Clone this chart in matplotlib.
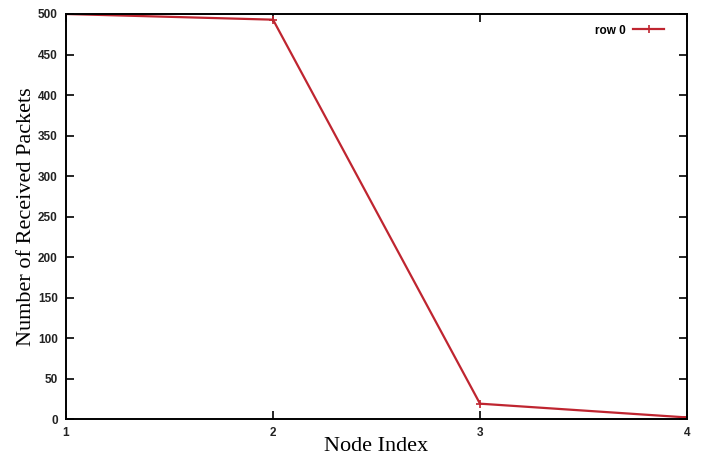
import matplotlib
matplotlib.use("Agg")
import matplotlib.pyplot as plt

nodes = [1, 2, 3, 4]
received = [500, 493, 19, 2]
xticks = [1, 2, 3, 4]
yticks = list(range(0, 501, 50))

fig = plt.figure(figsize=(7.04, 4.59), dpi=100)
ax = fig.add_axes([0.0938, 0.087, 0.882, 0.8825])
ax.plot(nodes, received, color="#bf2530", lw=1.6, marker="+", ms=6, mew=1.2, label="row 0")
ax.set_xlim(1, 4)
ax.set_ylim(0, 500)
ax.set_xticks(xticks)
ax.set_yticks(yticks)
ax.tick_params(direction="in", length=6, width=1.2, top=True, right=True,
               labelsize=8.5, pad=6, labelcolor="#222222")
for lbl in ax.get_xticklabels() + ax.get_yticklabels():
    lbl.set_fontweight("bold")
    lbl.set_family("Liberation Sans")
for s in ax.spines.values():
    s.set_linewidth(1.4)
ax.set_xlabel("Node Index", family="Liberation Serif", fontsize=16, labelpad=-2)
ax.set_ylabel("Number of Received Packets", family="Liberation Serif", fontsize=16, labelpad=1)
leg = ax.legend(loc="upper right", bbox_to_anchor=(0.98, 1.0), frameon=False,
                markerfirst=False, fontsize=8.5, handlelength=2.6, handletextpad=0.6)
for t in leg.get_texts():
    t.set_fontweight("bold")
    t.set_family("Liberation Sans")
fig.savefig("out.png", dpi=100)
